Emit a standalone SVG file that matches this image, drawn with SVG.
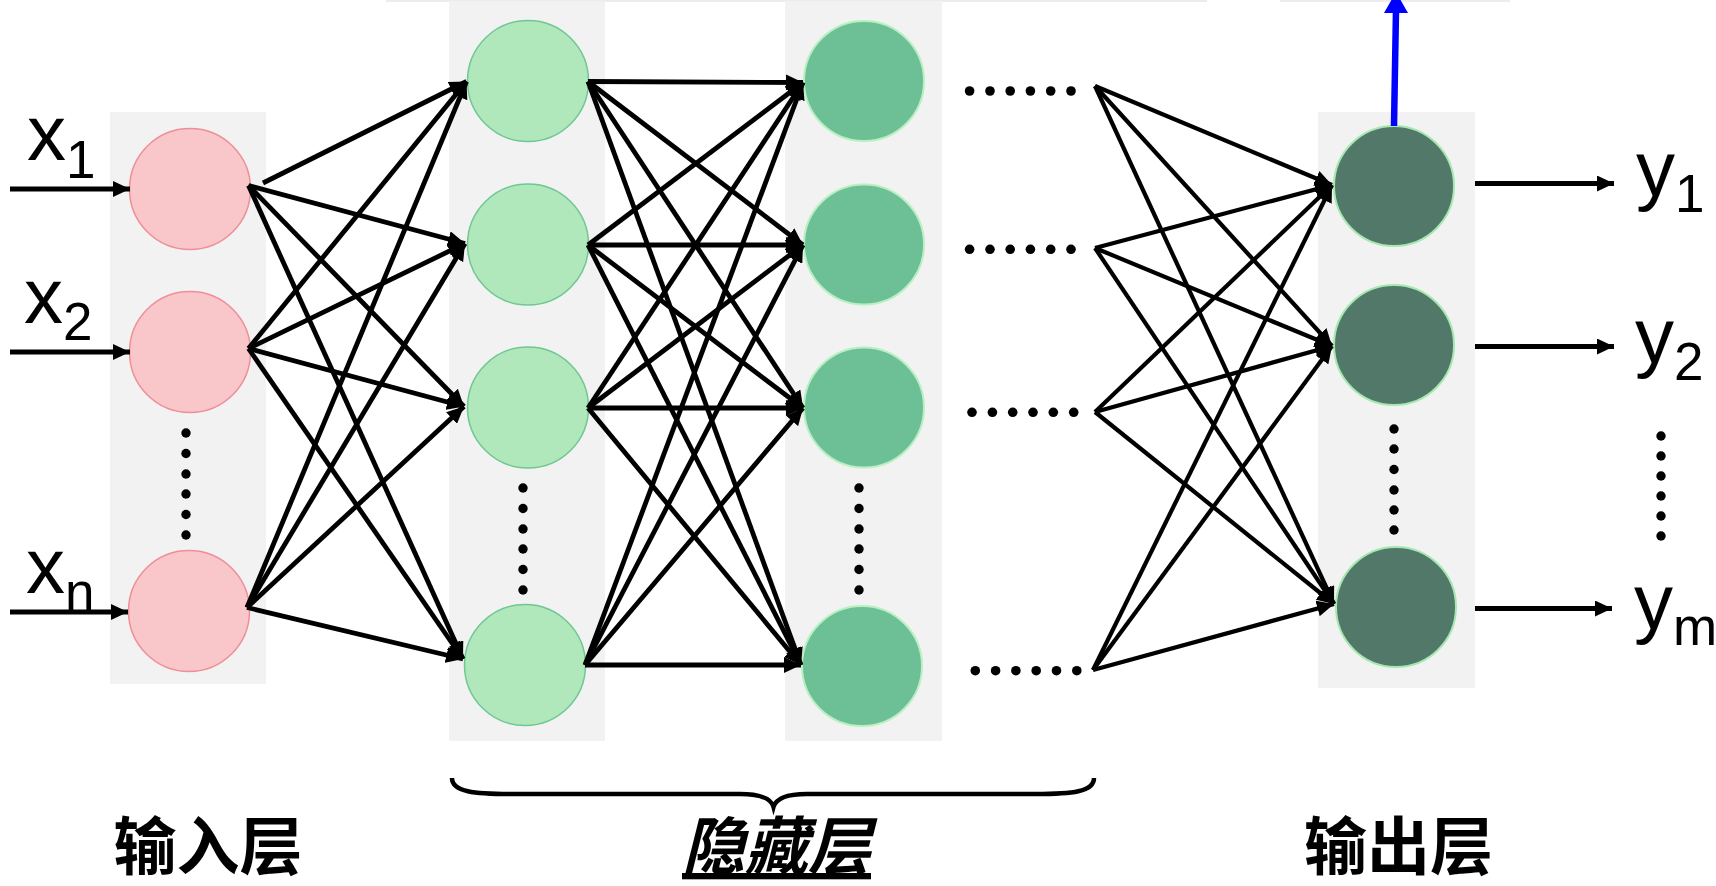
<svg xmlns="http://www.w3.org/2000/svg" width="1716" height="886" viewBox="0 0 1716 886">
<defs>
<style>
.band{fill:#F2F2F2}
.pink{fill:#F9C6CA;stroke:#EE8F97;stroke-width:1.5}
.lg{fill:#B0E8BB;stroke:#6FC794;stroke-width:1.5}
.mg{fill:#6DBF96;stroke:#B8F0C2;stroke-width:2}
.dg{fill:#52786A;stroke:#A5E8B0;stroke-width:2}
.dot{fill:#000}
.c{stroke:#000;stroke-width:4.8;fill:none;marker-end:url(#ah)}
.c2{stroke:#000;stroke-width:4.2;fill:none;marker-end:url(#ah)}
.io{stroke:#000;stroke-width:4.8;fill:none;marker-end:url(#ah)}
.lbl{font-family:"Liberation Sans",Arial,sans-serif;font-size:78px;fill:#000}
.sub{font-size:53px}
.cn{font-family:"Noto Sans CJK SC","Noto Sans CJK JP",sans-serif;font-size:63px;font-weight:bold;fill:#000;text-anchor:middle}
</style>
<marker id="ah" markerUnits="userSpaceOnUse" markerWidth="18" markerHeight="16" refX="17" refY="8" orient="auto"><path d="M0,0 L17,8 L0,16 z" fill="#000"/></marker>
</defs>
<rect width="1716" height="886" fill="#fff"/>
<rect x="386" y="0" width="821" height="2" fill="#ECECEC"/>
<rect x="1280" y="0" width="230" height="2" fill="#ECECEC"/>

<g id="input-layer">
<rect class="band" x="110" y="112" width="156" height="572"/>
<g id="x1"><circle class="pink" cx="190" cy="189" r="60.5"/></g>
<g id="x2"><circle class="pink" cx="190" cy="352" r="60.5"/></g>
<g id="xn"><circle class="pink" cx="189" cy="611" r="60.5"/></g>
<g id="input-dots" class="dot"><circle cx="186" cy="433" r="4.7"/><circle cx="186" cy="453.5" r="4.7"/><circle cx="186" cy="474" r="4.7"/><circle cx="186" cy="494" r="4.7"/><circle cx="186" cy="514.5" r="4.7"/><circle cx="186" cy="535" r="4.7"/></g>
</g>

<g id="hidden-layer-1">
<rect class="band" x="449" y="1" width="156" height="740"/>
<g id="h1-1"><circle class="lg" cx="528" cy="81" r="60.5"/></g>
<g id="h1-2"><circle class="lg" cx="528" cy="244.5" r="60.5"/></g>
<g id="h1-3"><circle class="lg" cx="528" cy="407.5" r="60.5"/></g>
<g id="h1-4"><circle class="lg" cx="525" cy="665" r="60.5"/></g>
<g id="h1-dots" class="dot"><circle cx="523" cy="488" r="4.7"/><circle cx="523" cy="508.5" r="4.7"/><circle cx="523" cy="529" r="4.7"/><circle cx="523" cy="549" r="4.7"/><circle cx="523" cy="569.5" r="4.7"/><circle cx="523" cy="590" r="4.7"/></g>
</g>

<g id="hidden-layer-2">
<rect class="band" x="785" y="1" width="157" height="740"/>
<g id="h2-1"><circle class="mg" cx="864" cy="81" r="60"/></g>
<g id="h2-2"><circle class="mg" cx="864" cy="244.5" r="60"/></g>
<g id="h2-3"><circle class="mg" cx="864" cy="407.5" r="60"/></g>
<g id="h2-4"><circle class="mg" cx="862" cy="666" r="60"/></g>
<g id="h2-dots" class="dot"><circle cx="859" cy="488" r="4.7"/><circle cx="859" cy="508.5" r="4.7"/><circle cx="859" cy="529" r="4.7"/><circle cx="859" cy="549" r="4.7"/><circle cx="859" cy="569.5" r="4.7"/><circle cx="859" cy="590" r="4.7"/></g>
</g>

<g id="row-dots" class="dot">
<circle cx="969.6" cy="91" r="4.8"/><circle cx="990" cy="91" r="4.8"/><circle cx="1010.2" cy="91" r="4.8"/><circle cx="1030.4" cy="91" r="4.8"/><circle cx="1050.7" cy="91" r="4.8"/><circle cx="1071" cy="91" r="4.8"/>
<circle cx="969.6" cy="249.3" r="4.8"/><circle cx="990" cy="249.3" r="4.8"/><circle cx="1010.2" cy="249.3" r="4.8"/><circle cx="1030.4" cy="249.3" r="4.8"/><circle cx="1050.7" cy="249.3" r="4.8"/><circle cx="1071" cy="249.3" r="4.8"/>
<circle cx="972" cy="412.3" r="4.8"/><circle cx="992.4" cy="412.3" r="4.8"/><circle cx="1012.7" cy="412.3" r="4.8"/><circle cx="1033" cy="412.3" r="4.8"/><circle cx="1053.3" cy="412.3" r="4.8"/><circle cx="1073.7" cy="412.3" r="4.8"/>
<circle cx="975.3" cy="670.7" r="4.8"/><circle cx="995.6" cy="670.7" r="4.8"/><circle cx="1015.9" cy="670.7" r="4.8"/><circle cx="1036.2" cy="670.7" r="4.8"/><circle cx="1056.5" cy="670.7" r="4.8"/><circle cx="1076.8" cy="670.7" r="4.8"/>
</g>

<g id="output-layer">
<rect class="band" x="1318" y="112" width="157" height="576"/>
<g id="o1"><circle class="dg" cx="1394" cy="186" r="60"/></g>
<g id="o2"><circle class="dg" cx="1394" cy="345" r="60"/></g>
<g id="om"><circle class="dg" cx="1396" cy="607" r="60"/></g>
<g id="o-dots" class="dot"><circle cx="1394" cy="429" r="4.7"/><circle cx="1394" cy="449" r="4.7"/><circle cx="1394" cy="469.5" r="4.7"/><circle cx="1394" cy="490" r="4.7"/><circle cx="1394" cy="510" r="4.7"/><circle cx="1394" cy="530" r="4.7"/></g>
</g>

<g id="connectors">
<line class="io" x1="10" y1="189" x2="130" y2="189"/>
<line class="io" x1="10" y1="352" x2="130" y2="352"/>
<line class="io" x1="10" y1="612" x2="128" y2="612"/>

<line class="c" x1="263" y1="183" x2="466.5" y2="81.5"/>
<line class="c" x1="248.5" y1="185.5" x2="465" y2="243.5"/>
<line class="c" x1="248.5" y1="185.5" x2="464" y2="406.5"/>
<line class="c" x1="248.5" y1="185.5" x2="463" y2="659"/>
<line class="c" x1="248.5" y1="348.5" x2="466.5" y2="81.5"/>
<line class="c" x1="248.5" y1="348.5" x2="465" y2="243.5"/>
<line class="c" x1="248.5" y1="348.5" x2="464" y2="406.5"/>
<line class="c" x1="248.5" y1="348.5" x2="463" y2="659"/>
<line class="c" x1="247" y1="607.5" x2="466.5" y2="81.5"/>
<line class="c" x1="247" y1="607.5" x2="465" y2="243.5"/>
<line class="c" x1="247" y1="607.5" x2="464" y2="406.5"/>
<line class="c" x1="247" y1="607.5" x2="463" y2="659"/>

<line class="c" x1="588" y1="81.5" x2="803" y2="82.5"/>
<line class="c" x1="588" y1="81.5" x2="803" y2="245"/>
<line class="c" x1="588" y1="81.5" x2="803" y2="408"/>
<line class="c" x1="588" y1="81.5" x2="801" y2="665"/>
<line class="c" x1="588" y1="245" x2="803" y2="82.5"/>
<line class="c" x1="588" y1="245" x2="803" y2="245"/>
<line class="c" x1="588" y1="245" x2="803" y2="408"/>
<line class="c" x1="588" y1="245" x2="801" y2="665"/>
<line class="c" x1="588" y1="408" x2="803" y2="82.5"/>
<line class="c" x1="588" y1="408" x2="803" y2="245"/>
<line class="c" x1="588" y1="408" x2="803" y2="408"/>
<line class="c" x1="588" y1="408" x2="801" y2="665"/>
<line class="c" x1="585" y1="665" x2="803" y2="82.5"/>
<line class="c" x1="585" y1="665" x2="803" y2="245"/>
<line class="c" x1="585" y1="665" x2="803" y2="408"/>
<line class="c" x1="585" y1="665" x2="801" y2="665"/>

<line class="c2" x1="1095" y1="86" x2="1332" y2="185"/>
<line class="c2" x1="1095" y1="86" x2="1332" y2="346"/>
<line class="c2" x1="1095" y1="86" x2="1334" y2="604"/>
<line class="c2" x1="1095" y1="248" x2="1332" y2="185"/>
<line class="c2" x1="1095" y1="248" x2="1332" y2="346"/>
<line class="c2" x1="1095" y1="248" x2="1334" y2="604"/>
<line class="c2" x1="1095" y1="412" x2="1332" y2="185"/>
<line class="c2" x1="1095" y1="412" x2="1332" y2="346"/>
<line class="c2" x1="1095" y1="412" x2="1334" y2="604"/>
<line class="c2" x1="1093" y1="670" x2="1332" y2="185"/>
<line class="c2" x1="1093" y1="670" x2="1332" y2="346"/>
<line class="c2" x1="1093" y1="670" x2="1334" y2="604"/>

<line class="io" x1="1475" y1="183.5" x2="1614" y2="183.5"/>
<line class="io" x1="1475" y1="346.5" x2="1614" y2="346.5"/>
<line class="io" x1="1475" y1="608.5" x2="1612" y2="608.5"/>

<line x1="1394" y1="126" x2="1396" y2="10" stroke="#0000FF" stroke-width="6.5"/>
<polygon points="1384,13 1408,13 1396,-8" fill="#0000FF"/>
</g>

<g id="labels">
<text class="lbl" x="27" y="160">x<tspan class="sub" dy="18">1</tspan></text>
<text class="lbl" x="24" y="323">x<tspan class="sub" dy="17">2</tspan></text>
<text class="lbl" x="26" y="593">x<tspan class="sub" dy="17">n</tspan></text>
<text class="lbl" x="1636" y="196">y<tspan class="sub" dy="16">1</tspan></text>
<text class="lbl" x="1635" y="363">y<tspan class="sub" dy="17">2</tspan></text>
<text class="lbl" x="1634" y="629">y<tspan class="sub" dy="16">m</tspan></text>
<g class="dot"><circle cx="1661" cy="436" r="4.7"/><circle cx="1661" cy="456" r="4.7"/><circle cx="1661" cy="476" r="4.7"/><circle cx="1661" cy="496" r="4.7"/><circle cx="1661" cy="516" r="4.7"/><circle cx="1661" cy="536" r="4.7"/></g>
<path d="M452,778 C452,792 475,794 510,794 L740,794 C760,794 771,798 773.5,807 C776,798 787,794 807,794 L1035,794 C1072,794 1094,792 1094,778" fill="none" stroke="#000" stroke-width="4.5"/>
<text class="cn" x="208" y="869">输入层</text>
<text class="cn" x="776.5" y="869" font-style="italic" text-decoration="underline">隐藏层</text>
<text class="cn" x="1398.5" y="869">输出层</text>
</g>
</svg>
